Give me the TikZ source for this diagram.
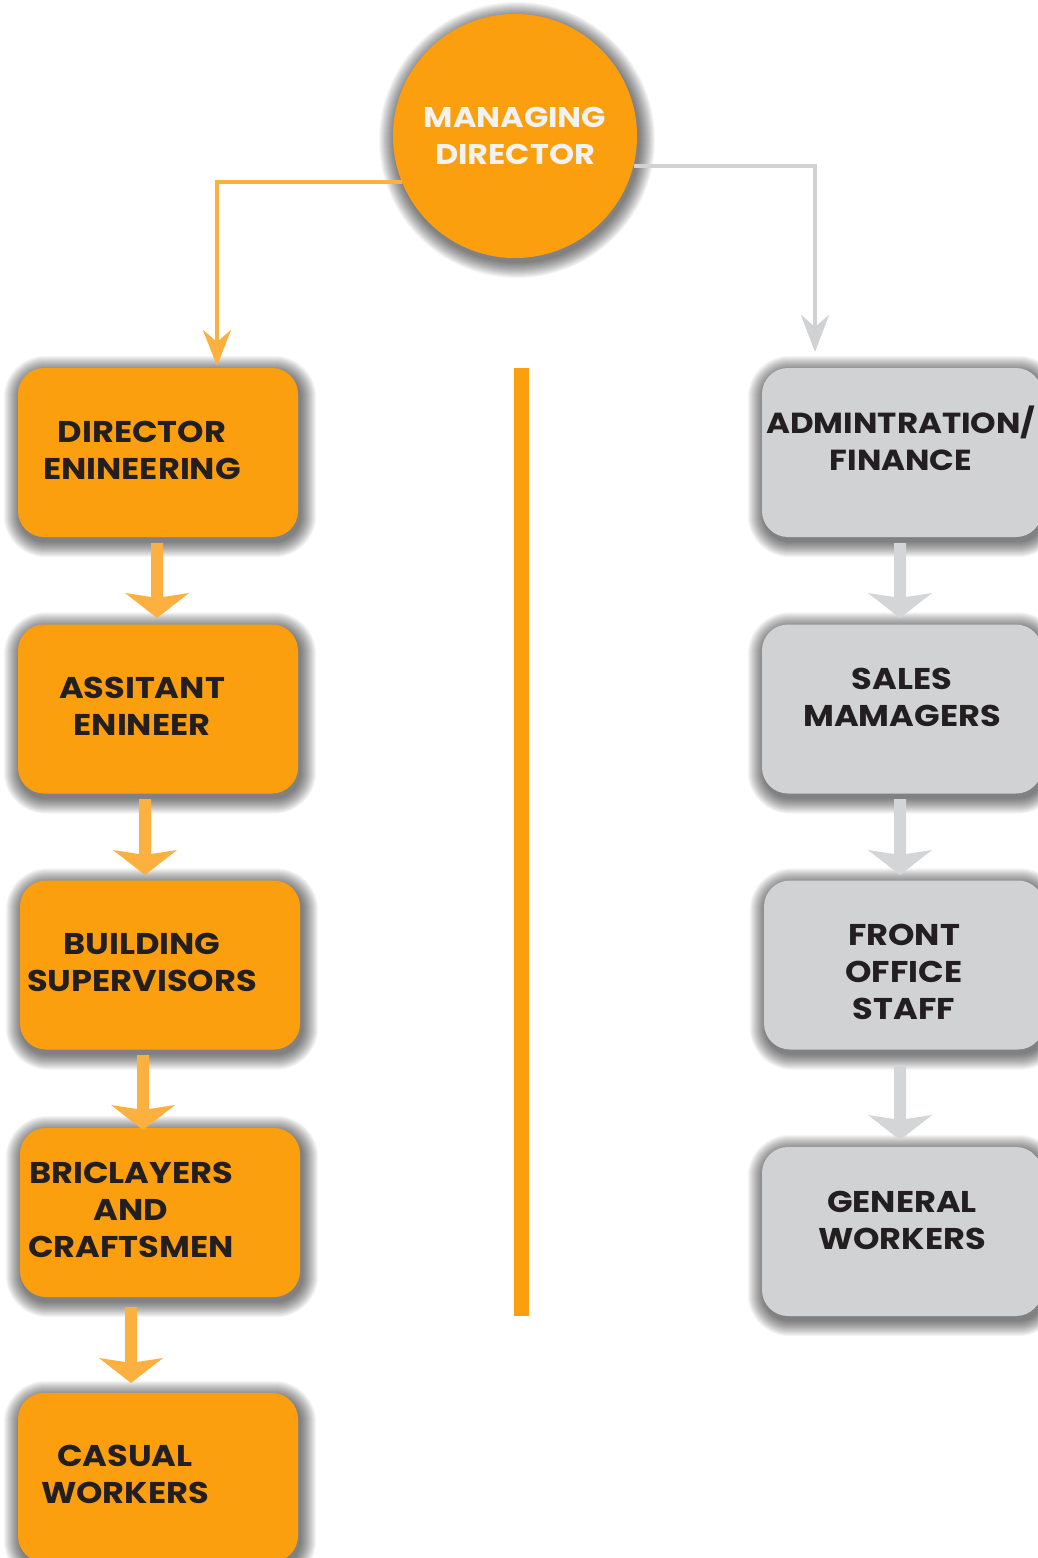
\documentclass[tikz,border=0pt]{standalone}
\usepackage{fontspec}
\setmainfont{Poppins}[FakeStretch=1.12]
\usetikzlibrary{arrows.meta,calc,backgrounds}
\definecolor{orng}{HTML}{FC9F0E}
\definecolor{orlt}{HTML}{FBB040}
\definecolor{gbox}{HTML}{D1D2D4}
\definecolor{garr}{HTML}{D4D5D7}
\definecolor{ink}{HTML}{231F20}
\definecolor{wtxt}{HTML}{F2F2F2}
\tikzset{
  obox/.style={rectangle, rounded corners=26pt, fill=orng, minimum width=280pt, minimum height=169pt, inner sep=0pt},
  gbx/.style={rectangle, rounded corners=26pt, fill=gbox, minimum width=280pt, minimum height=169pt, inner sep=0pt},
  lbl/.style={align=center, text=ink, font=\bfseries\fontsize{30}{37}\selectfont, inner sep=0pt},
  mdc/.style={circle, fill=orng, minimum size=244pt, inner sep=0pt, align=center, text=wtxt, font=\bfseries\fontsize{28.5}{37}\selectfont},
  oconn/.style={draw=orlt, line width=4pt, -{Stealth[length=36pt,width=28pt,inset=12pt,fill=orlt]}},
  gconn/.style={draw=gbox, line width=4pt, -{Stealth[length=37pt,width=28pt,inset=12pt,fill=gbox]}},
}
\newcommand\blockarr[3]{%
  \fill[#1] let \p1=(#2), \p2=(#3) in
    (\x1-6pt,\y1) -- (\x1+6pt,\y1) -- (\x1+6pt,\y2+21pt) -- (\x1+32pt,\y2+25pt)
    -- (\x1,\y2) -- (\x1-32pt,\y2+25pt) -- (\x1-6pt,\y2+21pt) -- cycle;}
\newcommand\boxshadow[1]{%
  \foreach \i in {1,...,16}{%
    \fill[black,opacity=0.04,rounded corners={(26+\i)*1pt}]
      ($(#1.south west)+(-\i+2,\i+4)$) rectangle ($(#1.north east)+(\i+2,-\i+4)$);
  }}
\begin{document}
\begin{tikzpicture}[x=1pt,y=-1pt]
\useasboundingbox (0,0) rectangle (1037,1558);
% top
\node[mdc] (md) at (515,136) {MANAGING\\DIRECTOR};
% left column
\node[obox] (de) at (158,452.5) {};
\node[obox] (ae) at (158,709) {};
\node[obox] (bs) at (160,965) {};
\node[obox] (bc) at (160,1212.5) {};
\node[obox] (cw) at (158,1477.5) {};
\node[lbl] (tde) at (142,450) {DIRECTOR\\ENINEERING};
\node[lbl] (tae) at (142,706.5) {ASSITANT\\ENINEER};
\node[lbl] (tbs) at (142,962) {BUILDING\\SUPERVISORS};
\node[lbl] (tbc) at (131,1210) {BRICLAYERS\\AND\\CRAFTSMEN};
\node[lbl] (tcw) at (125,1474) {CASUAL\\WORKERS};
% right column
\node[gbx] (af) at (902,452.5) {};
\node[gbx] (sm) at (902,709) {};
\node[gbx] (fo) at (904,965) {};
\node[gbx] (gw) at (902,1231.5) {};
\node[lbl, font=\bfseries\fontsize{29}{37}\selectfont] (taf) at (901,438.5) {ADMINTRATION/\\FINANCE};
\node[lbl] (tsm) at (902,697.5) {SALES\\MAMAGERS};
\node[lbl] (tfo) at (904,972) {FRONT\\OFFICE\\STAFF};
\node[lbl] (tgw) at (902,1220.5) {GENERAL\\WORKERS};
% divider
\fill[orng] (514,368) rectangle (529,1316);
% connectors from the director
\coordinate (dein) at (217,366);
\coordinate (afin) at (815,352);
\draw[oconn] (md.202) -| (dein);
\draw[gconn] (md.-14) -| (afin);
% block arrows left
\coordinate (l1a) at (157,543);  \coordinate (l1b) at (157,618);
\coordinate (l2a) at (145,799);  \coordinate (l2b) at (145,875);
\coordinate (l3a) at (143,1055); \coordinate (l3b) at (143,1130);
\coordinate (l4a) at (131,1307); \coordinate (l4b) at (131,1383);
\blockarr{orlt}{l1a}{l1b}
\blockarr{orlt}{l2a}{l2b}
\blockarr{orlt}{l3a}{l3b}
\blockarr{orlt}{l4a}{l4b}
% block arrows right
\coordinate (r1a) at (900,543);  \coordinate (r1b) at (900,618);
\coordinate (r2a) at (900,799);  \coordinate (r2b) at (900,875);
\coordinate (r3a) at (900,1065); \coordinate (r3b) at (900,1140);
\blockarr{garr}{r1a}{r1b}
\blockarr{garr}{r2a}{r2b}
\blockarr{garr}{r3a}{r3b}
% background and shadows
\begin{scope}[on background layer]
  \fill[white] (0,0) rectangle (1037,1558);
  \foreach \i in {1,...,16}{%
    \fill[black,opacity=0.04] ($(md.center)+(2,4)$) circle[radius={(122+\i)*1pt}];
  }
  \boxshadow{de}\boxshadow{ae}\boxshadow{bs}\boxshadow{bc}\boxshadow{cw}
  \boxshadow{af}\boxshadow{sm}\boxshadow{fo}\boxshadow{gw}
\end{scope}
\end{tikzpicture}
\end{document}
